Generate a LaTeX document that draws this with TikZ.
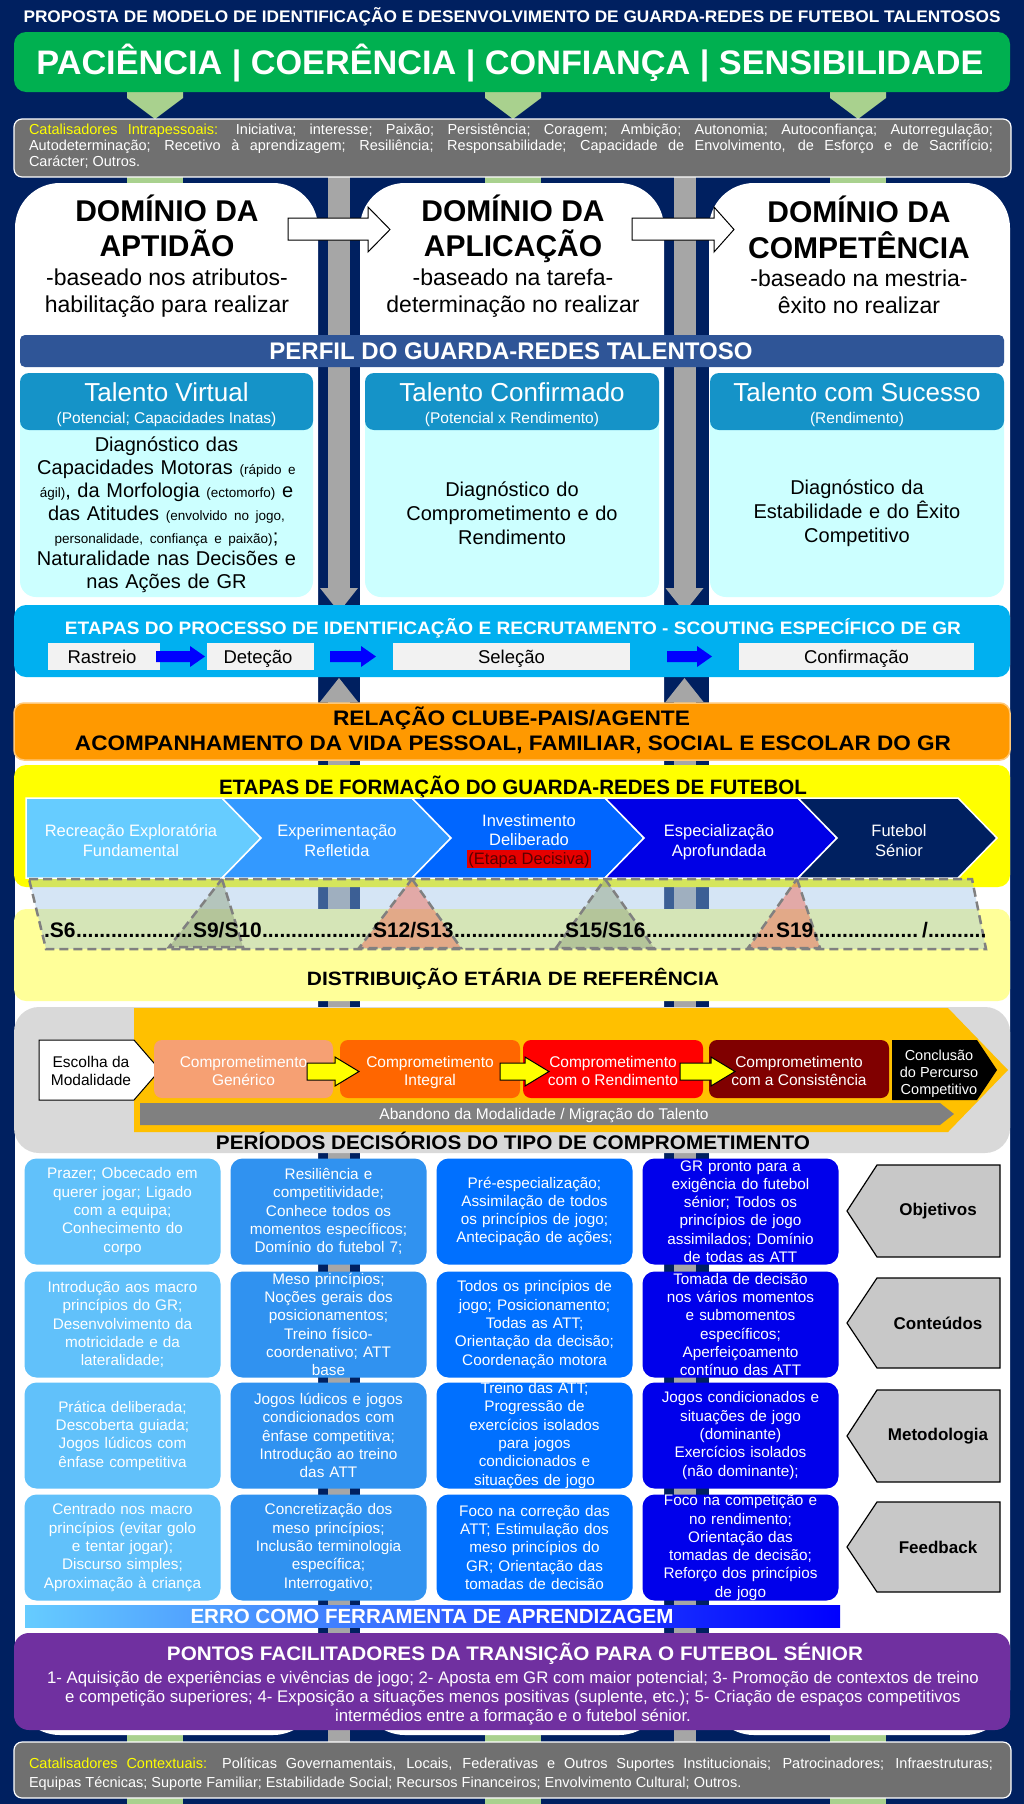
\documentclass[tikz,border=0pt]{standalone}
\usepackage{fontspec}
\setmainfont{Liberation Sans}
\usepackage{graphicx}
\definecolor{navy}{RGB}{0,32,96}
\definecolor{bgreen}{RGB}{0,176,80}
\definecolor{lgreen}{RGB}{169,209,142}
\definecolor{catgray}{RGB}{112,112,112}
\definecolor{caty}{RGB}{255,255,0}
\definecolor{barg}{RGB}{166,166,166}
\definecolor{perfil}{RGB}{47,85,151}
\definecolor{thead}{RGB}{21,147,200}
\definecolor{tbody}{RGB}{204,255,255}
\definecolor{etapas}{RGB}{0,176,240}
\definecolor{sbox}{RGB}{242,242,242}
\definecolor{arblue}{RGB}{0,0,255}
\definecolor{orng}{RGB}{255,153,0}
\definecolor{orngl}{RGB}{255,200,120}
\definecolor{yel}{RGB}{255,255,0}
\definecolor{lyel}{RGB}{255,255,153}
\definecolor{ch1}{RGB}{102,204,255}
\definecolor{ch2}{RGB}{51,153,255}
\definecolor{ch3}{RGB}{0,102,255}
\definecolor{ch4}{RGB}{0,0,230}
\definecolor{ch5}{RGB}{0,32,96}
\definecolor{ovblue}{RGB}{150,190,230}
\definecolor{trg}{RGB}{140,160,120}
\definecolor{tro}{RGB}{240,110,90}
\definecolor{dashg}{RGB}{128,128,128}
\definecolor{cgray}{RGB}{217,217,217}
\definecolor{goldc}{RGB}{255,192,0}
\definecolor{cm1}{RGB}{246,160,115}
\definecolor{cm2}{RGB}{255,102,0}
\definecolor{cm3}{RGB}{255,0,0}
\definecolor{cm4}{RGB}{128,0,0}
\definecolor{agray}{RGB}{128,128,128}
\definecolor{g1}{RGB}{97,193,250}
\definecolor{g2}{RGB}{48,146,240}
\definecolor{g3}{RGB}{0,112,255}
\definecolor{g4}{RGB}{0,0,235}
\definecolor{lblgray}{RGB}{200,200,200}
\definecolor{purp}{RGB}{112,48,160}
\definecolor{edred}{RGB}{230,0,0}
\definecolor{edtxt}{RGB}{90,0,0}
\newcommand\fsz[2]{\fontsize{#1}{#2}\selectfont}
\newcommand\fitw[2]{\resizebox{#1}{\height}{#2}}
\newcommand\gcell[5]{%
  \fill[#4, rounded corners=12] (#2-98,#3-53) rectangle (#2+98,#3+53);
  \node[gtext] (#1) at (#2,#3) {#5};}
\newcommand\glabel[4]{%
  \filldraw[fill=lblgray, draw=black, line width=1.2] (847,{(#2+#3)/2}) -- (877,#2) -- (1000,#2) -- (1000,#3) -- (877,#3) -- cycle;
  \node[font=\fsz{17}{20}\bfseries] (#1) at (938,{(#2+#3)/2}) {#4};}
\newcommand\barrow[2]{%
  \fill[arblue] (#1,651) -- (#2-15,651) -- (#2-15,646) -- (#2,656.5) -- (#2-15,667) -- (#2-15,662) -- (#1,662) -- cycle;}
\newcommand\yarrow[2]{%
  \filldraw[fill=yel, draw=black, line width=1] (#1,1063) -- (#2-24,1063) -- (#2-24,1057) -- (#2,1071.5) -- (#2-24,1086) -- (#2-24,1080) -- (#1,1080) -- cycle;}
\newcommand\dotrun[1]{\hbox to #1{\leaders\hbox{.}\hfill}}
\begin{document}
\begin{tikzpicture}[x=1pt,y=-1pt,
  every node/.style={inner sep=0pt,outer sep=0pt},
  gtext/.style={text width=200pt, align=center, font=\fsz{15.3}{18.3}, text=white},
  bl/.style={anchor=base},
  chtxt/.style={anchor=base, text=white, font=\fsz{16.5}{20}},
  cmtxt/.style={anchor=base, text=white, font=\fsz{15.5}{18}},
  agetxt/.style={anchor=base west, font=\fsz{21}{25}\bfseries},
  ]
\useasboundingbox (0,0) rectangle (1024,1804);
\fill[navy] (0,0) rectangle (1024,1804);
% green vertical bars
\foreach \xa in {155,513,858} {
  \fill[lgreen] (\xa-28,170) rectangle (\xa+28,1804);
  \fill[lgreen] (\xa-28,92) -- (\xa+28,92) -- (\xa+28,98) -- (\xa,119) -- (\xa-28,98) -- cycle;
}
% gray vertical bars
\foreach \cx in {339,684.5} {
  \fill[barg] (\cx-11,176) rectangle (\cx+11,592);
  \fill[barg] (\cx-19,588) -- (\cx+19,588) -- (\cx,612) -- cycle;
  \fill[barg] (\cx-19,702) -- (\cx+19,702) -- (\cx,678) -- cycle;
  \fill[barg] (\cx-11,700) rectangle (\cx+11,1745);
}
% white domain boxes
\fill[white, rounded corners=45] (15,183) rectangle (318,1735);
\fill[white, rounded corners=45] (360,183) rectangle (664,1735);
\fill[white, rounded corners=45] (709,183) rectangle (1010,1735);

% title
\node[bl, text=white] (title) at (512,23) {\fitw{977pt}{\fsz{16.8}{20}\bfseries PROPOSTA DE MODELO DE IDENTIFICAÇÃO E DESENVOLVIMENTO DE GUARDA-REDES DE FUTEBOL TALENTOSOS}};
% banner
\fill[bgreen, rounded corners=12] (14,32) rectangle (1010,92);
\node[bl, text=white] (banner) at (510,74) {\fitw{947pt}{\fsz{34}{40}\bfseries PACIÊNCIA | COERÊNCIA | CONFIANÇA | SENSIBILIDADE}};
% catalisadores intrapessoais
\filldraw[fill=catgray, draw=white, line width=1.2, rounded corners=8] (14,119) rectangle (1011,177);
\node[anchor=base west, text=white, font=\fsz{14.5}{16}] (cat1) at (29,134) {\makebox[964pt][s]{{\color{caty}Catalisadores Intrapessoais:} Iniciativa; interesse; Paixão; Persistência; Coragem; Ambição; Autonomia; Autoconfiança; Autorregulação;}};
\node[anchor=base west, text=white, font=\fsz{14.5}{16}] (cat2) at (29,150) {\makebox[964pt][s]{Autodeterminação; Recetivo à aprendizagem; Resiliência; Responsabilidade; Capacidade de Envolvimento, de Esforço e de Sacrifício;}};
\node[anchor=base west, text=white, font=\fsz{14.5}{16}] (cat3) at (29,166) {Carácter; Outros.};

% domain headers
\node[bl, font=\fsz{30}{35}\bfseries] (d1a) at (167,221) {DOMÍNIO DA};
\node[bl, font=\fsz{30}{35}\bfseries] (d1b) at (167,256) {APTIDÃO};
\node[bl, font=\fsz{23}{27}] (d1c) at (167,285) {-baseado nos atributos-};
\node[bl, font=\fsz{23}{27}] (d1d) at (167,312) {habilitação para realizar};
\node[bl, font=\fsz{30}{35}\bfseries] (d2a) at (513,221) {DOMÍNIO DA};
\node[bl, font=\fsz{30}{35}\bfseries] (d2b) at (513,256) {APLICAÇÃO};
\node[bl, font=\fsz{23}{27}] (d2c) at (513,285) {-baseado na tarefa-};
\node[bl, font=\fsz{23}{27}] (d2d) at (513,312) {determinação no realizar};
\node[bl, font=\fsz{30}{35}\bfseries] (d3a) at (859,222) {DOMÍNIO DA};
\node[bl, font=\fsz{30}{35}\bfseries] (d3b) at (859,258) {COMPETÊNCIA};
\node[bl, font=\fsz{23}{27}] (d3c) at (859,286) {-baseado na mestria-};
\node[bl, font=\fsz{23}{27}] (d3d) at (859,313) {êxito no realizar};
% white block arrows
\filldraw[fill=white, draw=black, line width=1] (288,218) -- (368,218) -- (368,207) -- (390,229.5) -- (368,252) -- (368,240) -- (288,240) -- cycle;
\filldraw[fill=white, draw=black, line width=1] (632,218) -- (714,218) -- (714,207) -- (734,229.5) -- (714,252) -- (714,240) -- (632,240) -- cycle;

% perfil band
\fill[perfil, rounded corners=5] (20,335) rectangle (1004,367);
\node[bl, text=white, font=\fsz{24}{28}\bfseries] (perfil) at (511,359.6) {PERFIL DO GUARDA-REDES TALENTOSO};
% talento boxes
\foreach \xl/\xr in {20/313,365/659,710/1004} {
  \fill[tbody, rounded corners=16] (\xl,373) rectangle (\xr,597);
  \fill[thead, rounded corners=9] (\xl,373) rectangle (\xr,430);
}
\node[bl, text=white, font=\fsz{26}{30}] (t1) at (166.5,401.5) {Talento Virtual};
\node[bl, text=white, font=\fsz{15.5}{18}] (t1s) at (166.5,423.5) {(Potencial; Capacidades Inatas)};
\node[bl, text=white, font=\fsz{26}{30}] (t2) at (512,401.5) {Talento Confirmado};
\node[bl, text=white, font=\fsz{15.5}{18}] (t2s) at (512,423.5) {(Potencial x Rendimento)};
\node[bl, text=white, font=\fsz{26}{30}] (t3) at (857,401.5) {Talento com Sucesso};
\node[bl, text=white, font=\fsz{15.5}{18}] (t3s) at (857,423.5) {(Rendimento)};
\node[text width=300pt, align=center, font=\fsz{20}{22.8}] (t1b) at (166.5,515) {Diagnóstico das\\ Capacidades Motoras {\fsz{13.5}{15}(rápido e}\\ {\fsz{13.5}{15}ágil)}, da Morfologia {\fsz{13.5}{15}(ectomorfo)} e\\ das Atitudes {\fsz{13.5}{15}(envolvido no jogo,}\\ {\fsz{13.5}{15}personalidade, confiança e paixão)};\\ Naturalidade nas Decisões e\\ nas Ações de GR};
\node[text width=300pt, align=center, font=\fsz{20}{24}] (t2b) at (512,513) {Diagnóstico do\\ Comprometimento e do\\ Rendimento};
\node[text width=300pt, align=center, font=\fsz{20}{24}] (t3b) at (857,513) {Diagnóstico da\\ Estabilidade e do Êxito\\ Competitivo};

% etapas do processo
\fill[etapas, rounded corners=12] (14,605) rectangle (1010,677);
\node[bl, text=white] (etp) at (513,634.5) {\fitw{896pt}{\fsz{18}{22}\bfseries ETAPAS DO PROCESSO DE IDENTIFICAÇÃO E RECRUTAMENTO - SCOUTING ESPECÍFICO DE GR}};
\fill[sbox] (48,643) rectangle (160,670);
\fill[sbox] (207,643) rectangle (314,670);
\fill[sbox] (393,643) rectangle (630,670);
\fill[sbox] (739,643) rectangle (974,670);
\barrow{156}{205}
\barrow{330}{376}
\barrow{667}{712}
\node[bl, font=\fsz{18.5}{22}] (ras) at (102,663) {Rastreio};
\node[bl, font=\fsz{18.5}{22}] (det) at (258,663) {Deteção};
\node[bl, font=\fsz{18.5}{22}] (sel) at (511.5,663) {Seleção};
\node[bl, font=\fsz{18.5}{22}] (con) at (856.5,663) {Confirmação};

% orange
\filldraw[fill=orng, draw=orngl, line width=1.5, rounded corners=10] (14,703) rectangle (1010,760);
\node[bl] (or1) at (511.5,725.5) {\fitw{357pt}{\fsz{21}{25}\bfseries RELAÇÃO CLUBE-PAIS/AGENTE}};
\node[bl] (or2) at (513,750.5) {\fitw{876pt}{\fsz{21}{25}\bfseries ACOMPANHAMENTO DA VIDA PESSOAL, FAMILIAR, SOCIAL E ESCOLAR DO GR}};

% yellow formação
\fill[yel, rounded corners=12] (14,765) rectangle (1010,887);
\node[bl] (form) at (513,794.5) {\fitw{588pt}{\fsz{20.8}{25}\bfseries ETAPAS DE FORMAÇÃO DO GUARDA-REDES DE FUTEBOL}};
\filldraw[fill=ch1, draw=white, line width=1.5] (26,798) -- (222,798) -- (261,838) -- (222,878) -- (26,878) -- cycle;
\filldraw[fill=ch2, draw=white, line width=1.5] (222,798) -- (412,798) -- (451,838) -- (412,878) -- (222,878) -- (261,838) -- cycle;
\filldraw[fill=ch3, draw=white, line width=1.5] (412,798) -- (605,798) -- (644,838) -- (605,878) -- (412,878) -- (451,838) -- cycle;
\filldraw[fill=ch4, draw=white, line width=1.5] (605,798) -- (798,798) -- (837,838) -- (798,878) -- (605,878) -- (644,838) -- cycle;
\filldraw[fill=ch5, draw=white, line width=1.5] (798,798) -- (958,798) -- (997,838) -- (958,878) -- (798,878) -- (837,838) -- cycle;
\node[chtxt] (c1a) at (131,836) {Recreação Exploratória};
\node[chtxt] (c1b) at (131,856) {Fundamental};
\node[chtxt] (c2a) at (337,836) {Experimentação};
\node[chtxt] (c2b) at (337,856) {Refletida};
\node[chtxt] (c3a) at (529,826) {Investimento};
\node[chtxt] (c3b) at (529,845) {Deliberado};
\fill[edred] (467,850) rectangle (591,868);
\node[chtxt, text=edtxt] (c3c) at (529,864.5) {(Etapa Decisiva)};
\node[chtxt] (c4a) at (719,836) {Especialização};
\node[chtxt] (c4b) at (719,856) {Aprofundada};
\node[chtxt] (c5a) at (899,836) {Futebol};
\node[chtxt] (c5b) at (899,856) {Sénior};

% light yellow age distribution
\fill[lyel, rounded corners=12] (14,909) rectangle (1010,1001);
\begin{scope}[dash pattern=on 9pt off 5pt, line width=2.5, draw=dashg]
\filldraw[fill=ovblue, fill opacity=0.4] (29,879) -- (972,879) -- (986,949) -- (46,949) -- cycle;
\filldraw[fill=trg, fill opacity=0.45] (222,879) -- (243,947) -- (169,947) -- cycle;
\filldraw[fill=tro, fill opacity=0.5] (412,879) -- (461,948) -- (359,948) -- cycle;
\filldraw[fill=trg, fill opacity=0.45] (605,879) -- (654,948) -- (556,948) -- cycle;
\filldraw[fill=tro, fill opacity=0.5] (797,879) -- (820,948) -- (748,948) -- cycle;
\end{scope}
\node[agetxt] (s6) at (44,937) {.S6};
\node[agetxt] (dt1) at (76,937) {\dotrun{117pt}};
\node[agetxt] (s9) at (193,937) {S9/S10};
\node[agetxt] (dt2) at (262,937) {\dotrun{111pt}};
\node[agetxt] (s12) at (373,937) {S12/S13};
\node[agetxt] (dt3) at (454,937) {\dotrun{111pt}};
\node[agetxt] (s15) at (565,937) {S15/S16};
\node[agetxt] (dt4) at (646,937) {\dotrun{130pt}};
\node[agetxt] (s19) at (776,937) {S19};
\node[agetxt] (dt5) at (813,937) {\dotrun{109pt}};
\node[agetxt] (sl) at (922,937) {/};
\node[agetxt] (dt6) at (928,937) {\dotrun{59pt}};
\node[bl] (dist) at (513,985) {\fitw{412pt}{\fsz{19.3}{23}\bfseries DISTRIBUIÇÃO ETÁRIA DE REFERÊNCIA}};

% commitment
\fill[cgray, rounded corners=25] (14,1007) rectangle (1010,1153);
\fill[goldc] (134,1008) -- (948,1008) -- (1008,1070) -- (948,1132) -- (134,1132) -- cycle;
\filldraw[fill=white, draw=black, line width=1] (39,1040) -- (134,1040) -- (160,1070) -- (134,1100) -- (39,1100) -- cycle;
\node[bl, font=\fsz{15.5}{18}] (esc1) at (91,1067) {Escolha da};
\node[bl, font=\fsz{15.5}{18}] (esc2) at (91,1085) {Modalidade};
\fill[cm1, rounded corners=8] (154,1040) rectangle (333,1098);
\fill[cm2, rounded corners=8] (340,1040) rectangle (520,1098);
\fill[cm3, rounded corners=8] (523,1040) rectangle (703,1098);
\fill[cm4, rounded corners=8] (709,1040) rectangle (889,1098);
\fill[black] (892,1040) -- (977,1040) -- (997,1070) -- (977,1100) -- (892,1100) -- cycle;
\node[cmtxt] (cm1a) at (243.5,1067) {Comprometimento};
\node[cmtxt] (cm1b) at (243.5,1085) {Genérico};
\node[cmtxt] (cm2a) at (430,1067) {Comprometimento};
\node[cmtxt] (cm2b) at (430,1085) {Integral};
\node[cmtxt] (cm3a) at (613,1067) {Comprometimento};
\node[cmtxt] (cm3b) at (613,1085) {com o Rendimento};
\node[cmtxt] (cm4a) at (799,1067) {Comprometimento};
\node[cmtxt] (cm4b) at (799,1085) {com a Consistência};
\node[bl, text=white, font=\fsz{14.5}{17}] (cc1) at (939,1060) {Conclusão};
\node[bl, text=white, font=\fsz{14.5}{17}] (cc2) at (939,1077) {do Percurso};
\node[bl, text=white, font=\fsz{14.5}{17}] (cc3) at (939,1094) {Competitivo};
\yarrow{307}{359}
\yarrow{500}{549}
\yarrow{680}{735}
\fill[agray] (140,1103) -- (940,1103) -- (954,1114) -- (940,1125) -- (140,1125) -- cycle;
\node[bl, text=white, font=\fsz{15.5}{18}] (aband) at (544,1119.5) {Abandono da Modalidade / Migração do Talento};
\node[bl] (perio) at (513,1149) {\fitw{594pt}{\fsz{19.7}{23}\bfseries PERÍODOS DECISÓRIOS DO TIPO DE COMPROMETIMENTO}};

% grid
\gcell{a1}{122.5}{1211.5}{g1}{Prazer; Obcecado em\\ querer jogar; Ligado\\ com a equipa;\\ Conhecimento do\\ corpo}
\gcell{a2}{122.5}{1324.5}{g1}{Introdução aos macro\\ princípios do GR;\\ Desenvolvimento da\\ motricidade e da\\ lateralidade;}
\gcell{a3}{122.5}{1435.5}{g1}{Prática deliberada;\\ Descoberta guiada;\\ Jogos lúdicos com\\ ênfase competitiva}
\gcell{a4}{122.5}{1547.5}{g1}{Centrado nos macro\\ princípios (evitar golo\\ e tentar jogar);\\ Discurso simples;\\ Aproximação à criança}
\gcell{b1}{328.5}{1211.5}{g2}{Resiliência e\\ competitividade;\\ Conhece todos os\\ momentos específicos;\\ Domínio do futebol 7;}
\gcell{b2}{328.5}{1324.5}{g2}{Meso princípios;\\ Noções gerais dos\\ posicionamentos;\\ Treino físico-\\ coordenativo; ATT\\ base}
\gcell{b3}{328.5}{1435.5}{g2}{Jogos lúdicos e jogos\\ condicionados com\\ ênfase competitiva;\\ Introdução ao treino\\ das ATT}
\gcell{b4}{328.5}{1547.5}{g2}{Concretização dos\\ meso princípios;\\ Inclusão terminologia\\ específica;\\ Interrogativo;}
\gcell{c1}{534.5}{1211.5}{g3}{Pré-especialização;\\ Assimilação de todos\\ os princípios de jogo;\\ Antecipação de ações;}
\gcell{c2}{534.5}{1324.5}{g3}{Todos os princípios de\\ jogo; Posicionamento;\\ Todas as ATT;\\ Orientação da decisão;\\ Coordenação motora}
\gcell{c3}{534.5}{1435.5}{g3}{Treino das ATT;\\ Progressão de\\ exercícios isolados\\ para jogos\\ condicionados e\\ situações de jogo}
\gcell{c4}{534.5}{1547.5}{g3}{Foco na correção das\\ ATT; Estimulação dos\\ meso princípios do\\ GR; Orientação das\\ tomadas de decisão}
\gcell{e1}{740.5}{1211.5}{g4}{GR pronto para a\\ exigência do futebol\\ sénior; Todos os\\ princípios de jogo\\ assimilados; Domínio\\ de todas as ATT}
\gcell{e2}{740.5}{1324.5}{g4}{Tomada de decisão\\ nos vários momentos\\ e submomentos\\ específicos;\\ Aperfeiçoamento\\ contínuo das ATT}
\gcell{e3}{740.5}{1435.5}{g4}{Jogos condicionados e\\ situações de jogo\\ (dominante)\\ Exercícios isolados\\ (não dominante);}
\gcell{e4}{740.5}{1547.5}{g4}{Foco na competição e\\ no rendimento;\\ Orientação das\\ tomadas de decisão;\\ Reforço dos princípios\\ de jogo}
\glabel{lobj}{1165}{1257}{Objetivos}
\glabel{lcon}{1278}{1368}{Conteúdos}
\glabel{lmet}{1390}{1482}{Metodologia}
\glabel{lfee}{1502}{1592}{Feedback}

% erro
\shade[left color=ch1, right color=arblue] (25,1605) rectangle (840,1627);
\node[bl, text=white] (erro) at (432,1623) {\fitw{483pt}{\fsz{20.5}{24}\bfseries ERRO COMO FERRAMENTA DE APRENDIZAGEM}};

% purple
\fill[purp, rounded corners=15] (14,1633) rectangle (1010,1730);
\node[bl, text=white] (pont) at (515,1660) {\fitw{696pt}{\fsz{19.6}{23}\bfseries PONTOS FACILITADORES DA TRANSIÇÃO PARA O FUTEBOL SÉNIOR}};
\node[bl, text=white, font=\fsz{16.8}{19}] (p1) at (513,1683.5) {1- Aquisição de experiências e vivências de jogo; 2- Aposta em GR com maior potencial; 3- Promoção de contextos de treino};
\node[bl, text=white, font=\fsz{16.8}{19}] (p2) at (513,1702.5) {e competição superiores; 4- Exposição a situações menos positivas (suplente, etc.); 5- Criação de espaços competitivos};
\node[bl, text=white, font=\fsz{16.8}{19}] (p3) at (513,1721.5) {intermédios entre a formação e o futebol sénior.};

% catalisadores contextuais
\filldraw[fill=catgray, draw=white, line width=1.2, rounded corners=8] (14,1742) rectangle (1011,1798);
\node[anchor=base west, text=white, font=\fsz{14.5}{16}] (ctx1) at (29,1768) {\makebox[964pt][s]{{\color{caty}Catalisadores Contextuais:} Políticas Governamentais, Locais, Federativas e Outros Suportes Institucionais; Patrocinadores; Infraestruturas;}};
\node[anchor=base west, text=white, font=\fsz{14.5}{16}] (ctx2) at (29,1787) {Equipas Técnicas; Suporte Familiar; Estabilidade Social; Recursos Financeiros; Envolvimento Cultural; Outros.};
\end{tikzpicture}
\end{document}
